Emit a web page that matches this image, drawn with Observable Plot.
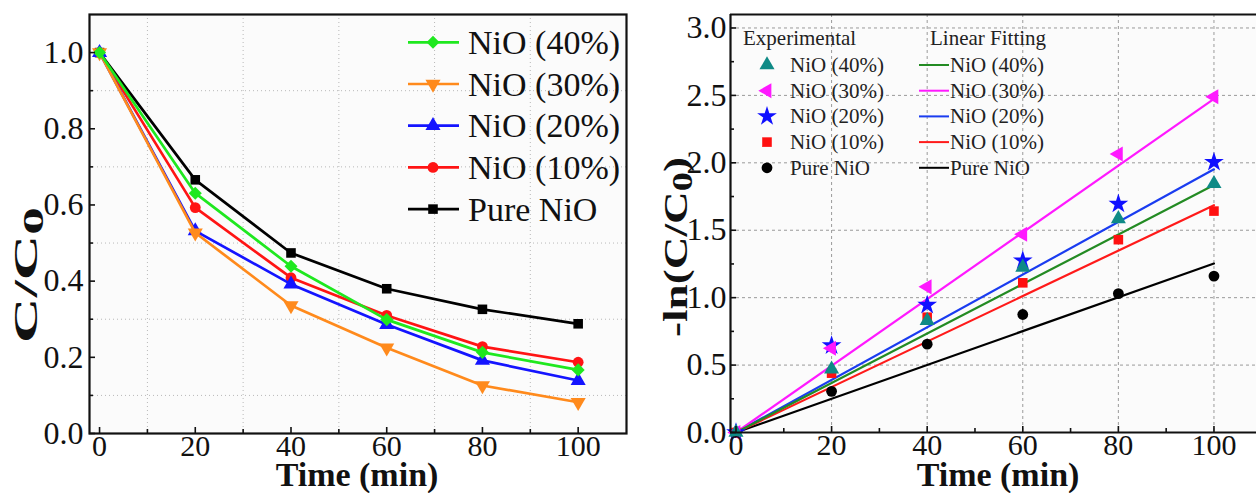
<!DOCTYPE html>
<html><head><meta charset="utf-8">
<script src="https://cdn.jsdelivr.net/npm/d3@7"></script>
<script src="https://cdn.jsdelivr.net/npm/@observablehq/plot@0.6"></script>
<style>
html,body{margin:0;padding:0;overflow:hidden}
body{background:#fff;width:1256px;height:493px;position:relative;font-family:"Liberation Serif","Times New Roman",serif}
#left{position:absolute;left:0;top:0;width:640px;height:493px}
#right{position:absolute;left:640px;top:0;width:616px;height:493px}
#left svg,#right svg{max-width:none !important;height:493px !important}
#left svg{width:640px !important}
#right svg{width:616px !important}
#overlay{position:absolute;left:0;top:0;pointer-events:none}
svg text{font-family:"Liberation Serif","Times New Roman",serif !important}
</style></head><body>
<div id="left"></div><div id="right"></div>
<svg id="overlay" width="1256" height="493"></svg>
<script>
// ---------- data ----------
const times = [0, 20, 40, 60, 80, 100];
const seriesNames = ["NiO (40%)", "NiO (30%)", "NiO (20%)", "NiO (10%)", "Pure NiO"];

// left panel: C/C0
const ratio40   = [1, 0.631, 0.439, 0.299, 0.213, 0.167];
const ratio30   = [1, 0.527, 0.336, 0.225, 0.126, 0.082];
const ratio20   = [1, 0.532, 0.392, 0.286, 0.192, 0.139];
const ratio10   = [1, 0.593, 0.409, 0.310, 0.228, 0.187];
const ratioPure = [1, 0.666, 0.474, 0.380, 0.326, 0.288];

// right panel: -ln(C/C0) experimental
const ln40   = [0, 0.47, 0.83, 1.225, 1.585, 1.845];
const ln30   = [0, 0.625, 1.08, 1.47, 2.065, 2.49];
const ln20   = [0, 0.645, 0.945, 1.275, 1.695, 2.005];
const ln10   = [0, 0.44, 0.855, 1.11, 1.43, 1.642];
const lnPure = [0, 0.305, 0.655, 0.875, 1.03, 1.16];

// linear fits: values at start and end of fit range
const fitTimes = [0, 100];
const fit40   = [0, 1.835];
const fit30   = [0, 2.474];
const fit20   = [0, 1.952];
const fit10   = [0, 1.686];
const fitPure = [0, 1.253];

// ticks and domains
const xTicks = [0, 20, 40, 60, 80, 100];
const xMinor = [10, 30, 50, 70, 90];
const yTicksL = [0, 0.2, 0.4, 0.6, 0.8, 1.0];
const yMinorL = [0.1, 0.3, 0.5, 0.7, 0.9];
const yTicksR = [0, 0.5, 1.0, 1.5, 2.0, 2.5, 3.0];
const yMinorR = [0.25, 0.75, 1.25, 1.75, 2.25, 2.75];
const xDomL = [-2.1, 110.1], yDomL = [0, 1.1];
const xDomR = [-1.15, 108.9], yDomR = [0, 3.1];

// ---------- styles ----------
const leftColors  = ["#1fe81f", "#ff8a1c", "#1414ff", "#ff1414", "#000000"];
const leftSymbols = ["square", "triangle", "triangle", "circle", "square"];
const leftRotate  = [45, 180, 0, 0, 0];
const leftR       = [5.2, 5.6, 5.6, 5.4, 5.4];

const ptColors  = ["#0f8a86", "#ff19ff", "#1010ff", "#ff1010", "#000000"];
const ptSymbols = ["triangle", "triangle", "star", "square", "circle"];
const ptRotate  = [0, -90, 0, 0, 0];
const ptR       = [5.6, 5.6, 6.2, 5.4, 5.4];
const fitColors = ["#238b23", "#ff19ff", "#1a3cf0", "#ff1a1a", "#000000"];

const ratios = [ratio40, ratio30, ratio20, ratio10, ratioPure];
const lns = [ln40, ln30, ln20, ln10, lnPure];
const fits = [fit40, fit30, fit20, fit10, fitPure];

const leftRows = ratios.map((arr, i) => times.map((t, j) => ({series: seriesNames[i], t, v: arr[j]})));
const ptRows = lns.map((arr, i) => times.map((t, j) => ({series: seriesNames[i], t, v: arr[j]})));
const fitRows = fits.map((arr, i) => fitTimes.map((t, j) => ({series: seriesNames[i], t, v: arr[j]})));

const order = [4, 3, 2, 1, 0];
const fontStack = "'Liberation Serif', 'Times New Roman', serif";

// ---------- left plot ----------
const leftMarks = [
  Plot.frame({fill: "#fbfbfb", stroke: "none"}),
  Plot.gridX(xMinor, {stroke: "#b8b8b8", strokeOpacity: 1, strokeDasharray: "1,3"}),
  Plot.gridY(yMinorL, {stroke: "#b8b8b8", strokeOpacity: 1, strokeDasharray: "1,3"}),
];
for (const i of order) {
  leftMarks.push(Plot.line(leftRows[i], {x: "t", y: "v", stroke: leftColors[i], strokeWidth: 2.7}));
  leftMarks.push(Plot.dot(leftRows[i], {x: "t", y: "v", symbol: leftSymbols[i], fill: leftColors[i], r: leftR[i], rotate: leftRotate[i]}));
}
leftMarks.push(
  Plot.axisX({ticks: xTicks, tickSize: -6, fill: "none", label: null, strokeWidth: 1.6}),
  Plot.axisX({ticks: xMinor, tickSize: -4, fill: "none", label: null, strokeWidth: 1.6}),
  Plot.axisX({ticks: xTicks, tickSize: 0, tickPadding: 1, label: null, fill: "#111", fontSize: 30}),
  Plot.axisY({ticks: yTicksL, tickSize: -6, fill: "none", label: null, strokeWidth: 1.6}),
  Plot.axisY({ticks: yMinorL, tickSize: -4, fill: "none", label: null, strokeWidth: 1.6}),
  Plot.axisY({ticks: yTicksL, tickSize: 0, tickPadding: 6, label: null, tickFormat: d3.format(".1f"), fill: "#111"}),
  Plot.frame({stroke: "#111", strokeWidth: 2.2})
);
const leftPlot = Plot.plot({
  width: 640, height: 493,
  marginLeft: 89, marginRight: 14, marginTop: 14, marginBottom: 60,
  x: {domain: xDomL},
  y: {domain: yDomL},
  style: {fontFamily: fontStack, fontSize: "32px", background: "transparent", color: "#111", maxWidth: "none"},
  marks: leftMarks
});
document.getElementById("left").appendChild(leftPlot);

// ---------- right plot (its right border lies outside the picture) ----------
const rightMarks = [
  Plot.frame({fill: "#fbfbfb", stroke: "none"}),
  Plot.gridX(xTicks.slice(1), {stroke: "#9a9a9a", strokeOpacity: 1, strokeDasharray: "3,3"}),
  Plot.gridY(yTicksR.slice(1), {stroke: "#9a9a9a", strokeOpacity: 1, strokeDasharray: "3,3"}),
];
for (const i of order) {
  rightMarks.push(Plot.line(fitRows[i], {x: "t", y: "v", stroke: fitColors[i], strokeWidth: 2.2}));
}
for (const i of order) {
  rightMarks.push(Plot.dot(ptRows[i], {x: "t", y: "v", symbol: ptSymbols[i], fill: ptColors[i], r: ptR[i], rotate: ptRotate[i]}));
}
rightMarks.push(
  Plot.axisX({ticks: xTicks, tickSize: -6, fill: "none", label: null, strokeWidth: 1.6}),
  Plot.axisX({ticks: xMinor, tickSize: -4, fill: "none", label: null, strokeWidth: 1.6}),
  Plot.axisX({ticks: xTicks, tickSize: 0, tickPadding: 1, label: null, fill: "#111", fontSize: 30}),
  Plot.axisY({ticks: yTicksR, tickSize: -6, fill: "none", label: null, strokeWidth: 1.6}),
  Plot.axisY({ticks: yMinorR, tickSize: -4, fill: "none", label: null, strokeWidth: 1.6}),
  Plot.axisY({ticks: yTicksR, tickSize: 0, tickPadding: 4, label: null, tickFormat: d3.format(".1f"), fill: "#111"}),
  // top, bottom and left borders of the frame
  Plot.ruleY(yDomR, {stroke: "#111", strokeWidth: 2.2}),
  Plot.ruleX([xDomR[0]], {stroke: "#111", strokeWidth: 2.2})
);
const rightPlot = Plot.plot({
  width: 616, height: 493,
  marginLeft: 90, marginRight: 0, marginTop: 14, marginBottom: 61,
  x: {domain: xDomR},
  y: {domain: yDomR},
  style: {fontFamily: fontStack, fontSize: "32px", background: "transparent", color: "#111", maxWidth: "none"},
  marks: rightMarks
});
document.getElementById("right").appendChild(rightPlot);

// ---------- overlay: titles and legends ----------
const ov = d3.select("#overlay");
function sym(name, r) {
  const map = {square: d3.symbolSquare, triangle: d3.symbolTriangle, circle: d3.symbolCircle, star: d3.symbolStar};
  return d3.symbol().type(map[name]).size(Math.PI * r * r)();
}

// x titles
ov.append("text").attr("x", 357).attr("y", 486).attr("text-anchor", "middle")
  .attr("font-family", fontStack).attr("font-weight", "bold").attr("font-size", 34).attr("fill", "#111").text("Time (min)");
ov.append("text").attr("x", 998).attr("y", 486).attr("text-anchor", "middle")
  .attr("font-family", fontStack).attr("font-weight", "bold").attr("font-size", 34).attr("fill", "#111").text("Time (min)");

// y titles
const yl = ov.append("text").attr("transform", "translate(37,275) rotate(-90)").attr("text-anchor", "middle")
  .attr("font-family", fontStack).attr("font-weight", "bold").attr("font-size", 34).attr("fill", "#111")
  .attr("textLength", 136).attr("lengthAdjust", "spacingAndGlyphs");
yl.append("tspan").text("C/C");
yl.append("tspan").attr("font-size", 30).attr("dy", 6).text("0");

const yr = ov.append("text").attr("transform", "translate(687,247) rotate(-90)").attr("text-anchor", "middle")
  .attr("font-family", fontStack).attr("font-weight", "bold").attr("font-size", 34).attr("fill", "#111")
  .attr("textLength", 180).attr("lengthAdjust", "spacingAndGlyphs");
yr.append("tspan").text("-ln(C/C");
yr.append("tspan").attr("font-size", 29).attr("dy", 5).text("0");
yr.append("tspan").attr("dy", -5).text(")");

// left legend
seriesNames.forEach((name, i) => {
  const cy = 42.3 + i * 41.7;
  ov.append("line").attr("x1", 408).attr("x2", 459).attr("y1", cy).attr("y2", cy)
    .attr("stroke", leftColors[i]).attr("stroke-width", 2.7);
  ov.append("path").attr("d", sym(leftSymbols[i], leftR[i]))
    .attr("transform", `translate(433,${cy}) rotate(${leftRotate[i]})`).attr("fill", leftColors[i]);
  ov.append("text").attr("x", 468).attr("y", cy + 11.5).attr("font-family", fontStack)
    .attr("font-size", 34).attr("fill", "#111").text(name);
});

// right legend
ov.append("text").attr("x", 743).attr("y", 45).attr("font-family", fontStack).attr("font-size", 21).attr("fill", "#222").text("Experimental");
ov.append("text").attr("x", 930).attr("y", 45).attr("font-family", fontStack).attr("font-size", 21).attr("fill", "#222").text("Linear Fitting");
seriesNames.forEach((name, i) => {
  const cy = 65 + i * 25.7;
  ov.append("path").attr("d", sym(ptSymbols[i], ptR[i]))
    .attr("transform", `translate(767,${cy}) rotate(${ptRotate[i]})`).attr("fill", ptColors[i]);
  ov.append("text").attr("x", 790).attr("y", cy + 7).attr("font-family", fontStack)
    .attr("font-size", 21).attr("fill", "#222").text(name);
  ov.append("line").attr("x1", 919).attr("x2", 949).attr("y1", cy).attr("y2", cy)
    .attr("stroke", fitColors[i]).attr("stroke-width", 2);
  ov.append("text").attr("x", 950).attr("y", cy + 7).attr("font-family", fontStack)
    .attr("font-size", 21).attr("fill", "#222").text(name);
});
</script>
</body></html>
